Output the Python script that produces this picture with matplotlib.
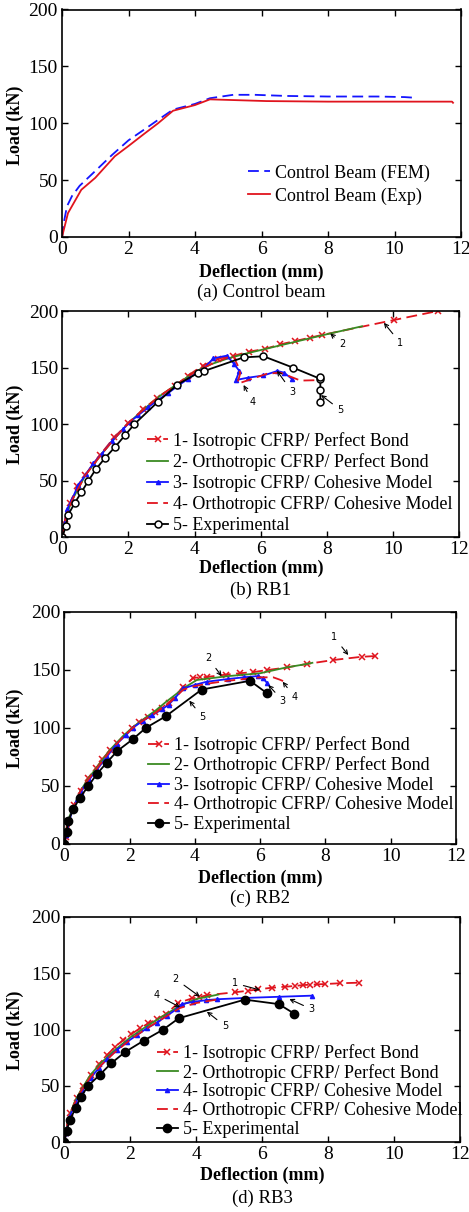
import numpy as np
import matplotlib
matplotlib.use('Agg')
import matplotlib.pyplot as plt

## Fonts / style

plt.rcParams['font.family'] = ['Liberation Serif', 'DejaVu Serif']
plt.rcParams['mathtext.fontset'] = 'stix'

RED = '#e0141e'
BLUE = '#1414ff'
GREEN = '#3a8a22'
BLACK = 'black'

## (a) Control beam data

a_fem_x = [0, 0.05, 0.15, 0.3, 0.53, 1.0, 1.5, 2.0, 2.5, 2.94, 3.34, 4.0, 4.45, 5.15, 5.8, 6.75, 8.0, 9.5, 10.3, 10.57, 10.62]
a_fem_y = [0, 12, 27, 36, 45, 58, 72, 85, 95, 104, 112, 117, 122, 125, 125, 124, 123.5, 123.5, 123, 122.5, 120]
a_exp_x = [0, 0.18, 0.58, 1.0, 1.59, 2.0, 2.44, 2.89, 3.34, 4.0, 4.45, 6.15, 8.0, 10.0, 11.73, 11.76]
a_exp_y = [0, 21, 41.5, 52, 71, 80, 90, 100, 111, 116, 121, 119.5, 119, 119, 119, 118]
a_labels = ['Control Beam (FEM)', 'Control Beam (Exp)']

## (b) RB1 data

b1_x = [0, 0.08, 0.23, 0.45, 0.69, 0.92, 1.14, 1.57, 2.0, 2.45, 2.85, 3.41, 3.79, 4.24, 4.72, 5.17, 5.63, 6.13, 6.59, 7.04, 7.5, 7.85, 10.02, 11.35]
b1_y = [0, 12, 30, 45, 55, 64, 72.7, 88.4, 101, 113.4, 122.8, 133.7, 142.8, 151.6, 158, 160.3, 164, 166.5, 170.5, 173.5, 176.5, 178.8, 192, 200]
b2_x = [0, 0.1, 0.3, 0.7, 1.2, 1.6, 2.0, 2.5, 3.0, 3.5, 4.0, 4.5, 5.0, 5.5, 6.0, 7.0, 8.0, 9.06]
b2_y = [0, 18, 33, 55, 74, 88, 101, 114, 126, 136, 146, 153, 158, 162, 165.5, 172.5, 179.5, 186.5]
b3_x = [0, 0.05, 0.15, 0.3, 0.48, 0.72, 0.94, 1.2, 1.5, 1.84, 2.05, 2.3, 2.6, 2.9, 3.2, 3.5, 3.8, 4.1, 4.3, 4.57, 4.97, 5.2, 5.35, 5.25, 5.6, 6.08, 6.5, 6.7, 6.94]
b3_y = [0, 10, 25, 34, 46, 56, 65.4, 74, 85, 95.7, 102, 108, 115, 121.5, 127.5, 134, 140, 146, 150, 158.2, 160.5, 153, 147, 139, 141, 143, 147, 145.5, 140]
b4_x = [0, 0.1, 0.3, 0.7, 1.2, 1.6, 2.0, 2.5, 3.0, 3.5, 4.0, 4.5, 5.0, 5.17, 5.3, 5.38, 5.3, 5.33, 6.18, 6.59, 7.2, 7.9]
b4_y = [0, 18, 33, 55, 74, 88, 101, 114, 126, 136, 146, 153, 159, 160, 152, 145, 137, 136, 144.5, 145.5, 138.5, 139]
b5_x = [0, 0.11, 0.18, 0.37, 0.58, 0.79, 1.01, 1.29, 1.6, 1.89, 2.18, 2.9, 3.48, 4.09, 4.29, 5.48, 6.08, 6.97, 7.8, 7.8, 7.8, 7.8]
b5_y = [0, 10, 20, 30, 40, 50, 60, 70, 80, 90, 100, 120, 135, 145, 147, 159, 160, 150, 140, 142, 130, 120]

## (c) RB2 data

c1_x = [0, 0.06, 0.3, 0.5, 0.72, 0.97, 1.17, 1.4, 1.62, 1.86, 2.07, 2.3, 2.57, 2.78, 3.0, 3.2, 3.65, 3.95, 4.16, 4.36, 4.95, 5.38, 5.79, 6.2, 6.82, 7.43, 8.24, 9.11, 9.52]
c1_y = [0, 6, 33.5, 46, 56.5, 65.2, 73, 81, 87.2, 93.8, 99.8, 105.3, 109.6, 114, 117.5, 121.5, 135.5, 143, 143.5, 143.8, 145.8, 147, 148, 149.7, 152, 155, 158.4, 161.2, 161.8]
c2_x = [0, 0.1, 0.3, 0.5, 0.75, 1.0, 1.4, 1.8, 2.1, 2.5, 2.8, 3.1, 3.4, 3.7, 4.06, 5.0, 6.0, 6.8, 7.43, 7.6]
c2_y = [0, 20, 33, 46, 57, 66, 81, 93, 100.5, 109, 115, 122, 128.5, 135, 141.2, 144.5, 147, 152, 155, 156]
c3_x = [0, 0.05, 0.25, 0.5, 0.75, 1.0, 1.3, 1.6, 1.9, 2.1, 2.4, 2.7, 3.0, 3.2, 3.4, 3.65, 4.0, 4.36, 5.0, 5.5, 5.94, 6.1, 6.2]
c3_y = [0, 8, 30, 45, 55, 64, 75, 86, 94, 100, 106, 111, 116, 120, 126, 134, 137, 139.7, 142, 143.5, 144.6, 142.5, 139]
c4_x = [0, 0.1, 0.3, 0.5, 0.75, 1.0, 1.4, 1.8, 2.1, 2.5, 2.8, 3.2, 3.65, 4.0, 4.5, 5.0, 5.5, 6.0, 6.4, 6.6, 6.85]
c4_y = [0, 20, 33, 46, 56, 65, 80, 92, 100, 108, 113, 121, 133, 136, 138.5, 140.5, 142, 143.5, 143.5, 141.5, 138.5]
c5_x = [0, 0.07, 0.12, 0.28, 0.48, 0.74, 0.99, 1.3, 1.62, 2.09, 2.5, 3.11, 4.21, 5.69, 6.2]
c5_y = [0, 10, 20, 30, 40, 50, 60, 70, 80, 90, 100, 110, 133, 140.5, 130]

## (d) RB3 data

d1_x = [0, 0.05, 0.17, 0.38, 0.58, 0.81, 1.06, 1.3, 1.54, 1.79, 2.02, 2.29, 2.55, 2.8, 3.08, 3.45, 3.86, 4.07, 4.32, 5.17, 5.58, 5.88, 6.28, 6.69, 6.99, 7.24, 7.45, 7.65, 7.9, 8.35, 8.94]
d1_y = [0, 8, 25.7, 39, 49.9, 59.7, 69.4, 77.4, 84.8, 90.7, 95.7, 101, 105.5, 109, 113.5, 123.5, 127.5, 128.5, 130.4, 133, 134.4, 135.6, 137, 137.9, 138.6, 139.4, 139.7, 140, 140.3, 141, 141.5]
d2_x = [0, 0.1, 0.3, 0.5, 0.8, 1.1, 1.5, 2.0, 2.5, 3.0, 3.5, 4.0, 4.67]
d2_y = [0, 18, 35, 46, 60, 70, 81, 93, 103, 112, 121, 127, 131]
d3_x = [0, 0.05, 0.15, 0.35, 0.55, 0.8, 1.05, 1.3, 1.6, 1.9, 2.2, 2.5, 2.8, 3.1, 3.4, 3.56, 3.9, 4.3, 4.62, 5.5, 6.5, 7.5]
d3_y = [0, 8, 22, 36, 46, 57, 66, 74, 82, 89, 95, 101, 106, 112, 118, 122.5, 124.5, 126, 126.8, 128, 129, 130]
d4_x = [0, 0.1, 0.3, 0.5, 0.8, 1.1, 1.5, 2.0, 2.5, 3.0, 3.5, 4.0, 4.62]
d4_y = [0, 18, 34, 45, 58, 68, 79, 91, 101, 110, 119, 123.5, 126.5]
d5_x = [0, 0.07, 0.17, 0.34, 0.5, 0.72, 1.08, 1.42, 1.84, 2.4, 3.0, 3.47, 5.47, 6.5, 6.97]
d5_y = [0, 10, 20, 30, 40, 50, 60, 70, 80, 90, 100, 110, 126.5, 122.5, 114]

## Legend labels

rb_labels = ['1- Isotropic CFRP/ Perfect Bond', '2- Orthotropic CFRP/ Perfect Bond',
             '3- Isotropic CFRP/ Cohesive Model', '4- Orthotropic CFRP/ Cohesive Model',
             '5- Experimental']
rb3_labels = ['1- Isotropic CFRP/ Perfect Bond', '2- Orthotropic CFRP/ Perfect Bond',
              '4- Isotropic CFRP/ Cohesive Model', '4- Orthotropic CFRP/ Cohesive Model',
              '5- Experimental']

## Arrow callouts: (number, text position, arrow head)

b_notes = [('1', (10.22, 171.7), (9.72, 189.6)), ('2', (8.46, 170.5), (8.1, 180.2)),
           ('3', (6.94, 128.7), (6.49, 147.2)), ('4', (5.75, 119.8), (5.48, 134.6)),
           ('5', (8.41, 112.5), (7.82, 125.7))]
c_notes = [('1', (8.27, 177.9), (8.7, 162.7)), ('2', (4.41, 159.8), (4.82, 144.6)),
           ('3', (6.69, 123.4), (6.25, 136.9)), ('4', (7.06, 126.3), (6.69, 139.7)),
           ('5', (4.24, 109.0), (3.83, 123.4))]
d_notes = [('1', (5.17, 141.0), (5.93, 135.0)), ('2', (3.38, 144.5), (4.11, 129.1)),
           ('3', (7.5, 117.9), (6.82, 127.0)), ('4', (2.8, 130.6), (3.51, 119.7)),
           ('5', (4.87, 103.1), (4.32, 115.8))]

W, H = 469, 1212
fig = plt.figure(figsize=(W / 100, H / 100), dpi=100)


def px_axes(left, right, top, bottom):
    # axes box given in pixel coords of the picture
    return fig.add_axes([left / W, 1 - bottom / H, (right - left) / W, (bottom - top) / H])


def style(ax):
    ax.set_xlim(0, 12)
    ax.set_ylim(0, 200)
    ax.set_xticks(np.arange(0, 13, 2))
    ax.set_yticks(np.arange(0, 201, 50))
    ax.tick_params(direction='in', top=True, right=True, length=4, width=1,
                   labelsize=14, pad=3)
    for s in ax.spines.values():
        s.set_linewidth(1.2)


def captions(ax_center_x, y_xlabel, y_caption, y_ylabel, caption):
    fig.text(ax_center_x / W, 1 - y_xlabel / H, 'Deflection (mm)', fontsize=13,
             fontweight='bold', ha='center', va='center')
    fig.text(ax_center_x / W, 1 - y_caption / H, caption, fontsize=13.5,
             ha='center', va='center')
    fig.text(15 / W, 1 - y_ylabel / H, 'Load (kN)', fontsize=13, fontweight='bold',
             rotation=90, ha='center', va='center')


def rb_plot(ax, s1, s2, s3, s4, s5, filled, labels, notes, leg_xy, spacing):
    ax.plot(*s1, color=RED, lw=1.3, dashes=(6, 3), marker='x', ms=4.5, mew=1.1,
            label=labels[0])
    ax.plot(*s2, color=GREEN, lw=1.3, label=labels[1])
    ax.plot(*s3, color=BLUE, lw=1.3, marker='^', ms=3, label=labels[2])
    ax.plot(*s4, color=RED, lw=1.3, dashes=(6, 3), label=labels[3])
    if filled:
        ax.plot(*s5, color=BLACK, lw=1.3, marker='o', ms=6, label=labels[4])
    else:
        ax.plot(*s5, color=BLACK, lw=1.3, marker='o', ms=5, mfc='white', mew=1.1,
                label=labels[4])
    for txt, pos, head in notes:
        ax.annotate(txt, xy=head, xytext=pos, fontsize=7, ha='center', va='center',
                    family='DejaVu Sans',
                    arrowprops=dict(arrowstyle='->', color='black', lw=0.8,
                                    shrinkA=2, shrinkB=0))
    ax.legend(loc='center left', bbox_to_anchor=leg_xy, frameon=False, fontsize=13,
              handlelength=1.2, handletextpad=0.25, labelspacing=spacing,
              borderpad=0, borderaxespad=0)
    style(ax)


# (a) Control beam
ax_a = px_axes(62, 461, 9.5, 237)
ax_a.plot(a_fem_x, a_fem_y, color=BLUE, lw=1.3, dashes=(6, 3), label=a_labels[0])
ax_a.plot(a_exp_x, a_exp_y, color=RED, lw=1.3, label=a_labels[1])
ax_a.legend(loc='center left', bbox_to_anchor=(0.467, 0.23), frameon=False, fontsize=13,
            handlelength=1.2, handletextpad=0.3, labelspacing=0.32,
            borderpad=0, borderaxespad=0)
style(ax_a)
captions(261.5, 272, 292, 125, '(a) Control beam')

# (b) RB1
ax_b = px_axes(62.3, 459.3, 311, 537.3)
rb_plot(ax_b, (b1_x, b1_y), (b2_x, b2_y), (b3_x, b3_y), (b4_x, b4_y), (b5_x, b5_y),
        False, rb_labels, b_notes, (0.2126, 0.24), 0.22)
captions(260.8, 568, 590, 424, '(b) RB1')

# (c) RB2
ax_c = px_axes(64.3, 456, 611.7, 844)
rb_plot(ax_c, (c1_x, c1_y), (c2_x, c2_y), (c3_x, c3_y), (c4_x, c4_y), (c5_x, c5_y),
        True, rb_labels, c_notes, (0.213, 0.256), 0.14)
captions(260.2, 878, 898, 728, '(c) RB2')

# (d) RB3
ax_d = px_axes(64.3, 460.3, 916.7, 1142.3)
rb_plot(ax_d, (d1_x, d1_y), (d2_x, d2_y), (d3_x, d3_y), (d4_x, d4_y), (d5_x, d5_y),
        True, rb3_labels, d_notes, (0.233, 0.227), 0.1)
captions(262.3, 1175, 1198, 1030, '(d) RB3')

fig.savefig('out.png', dpi=100)
